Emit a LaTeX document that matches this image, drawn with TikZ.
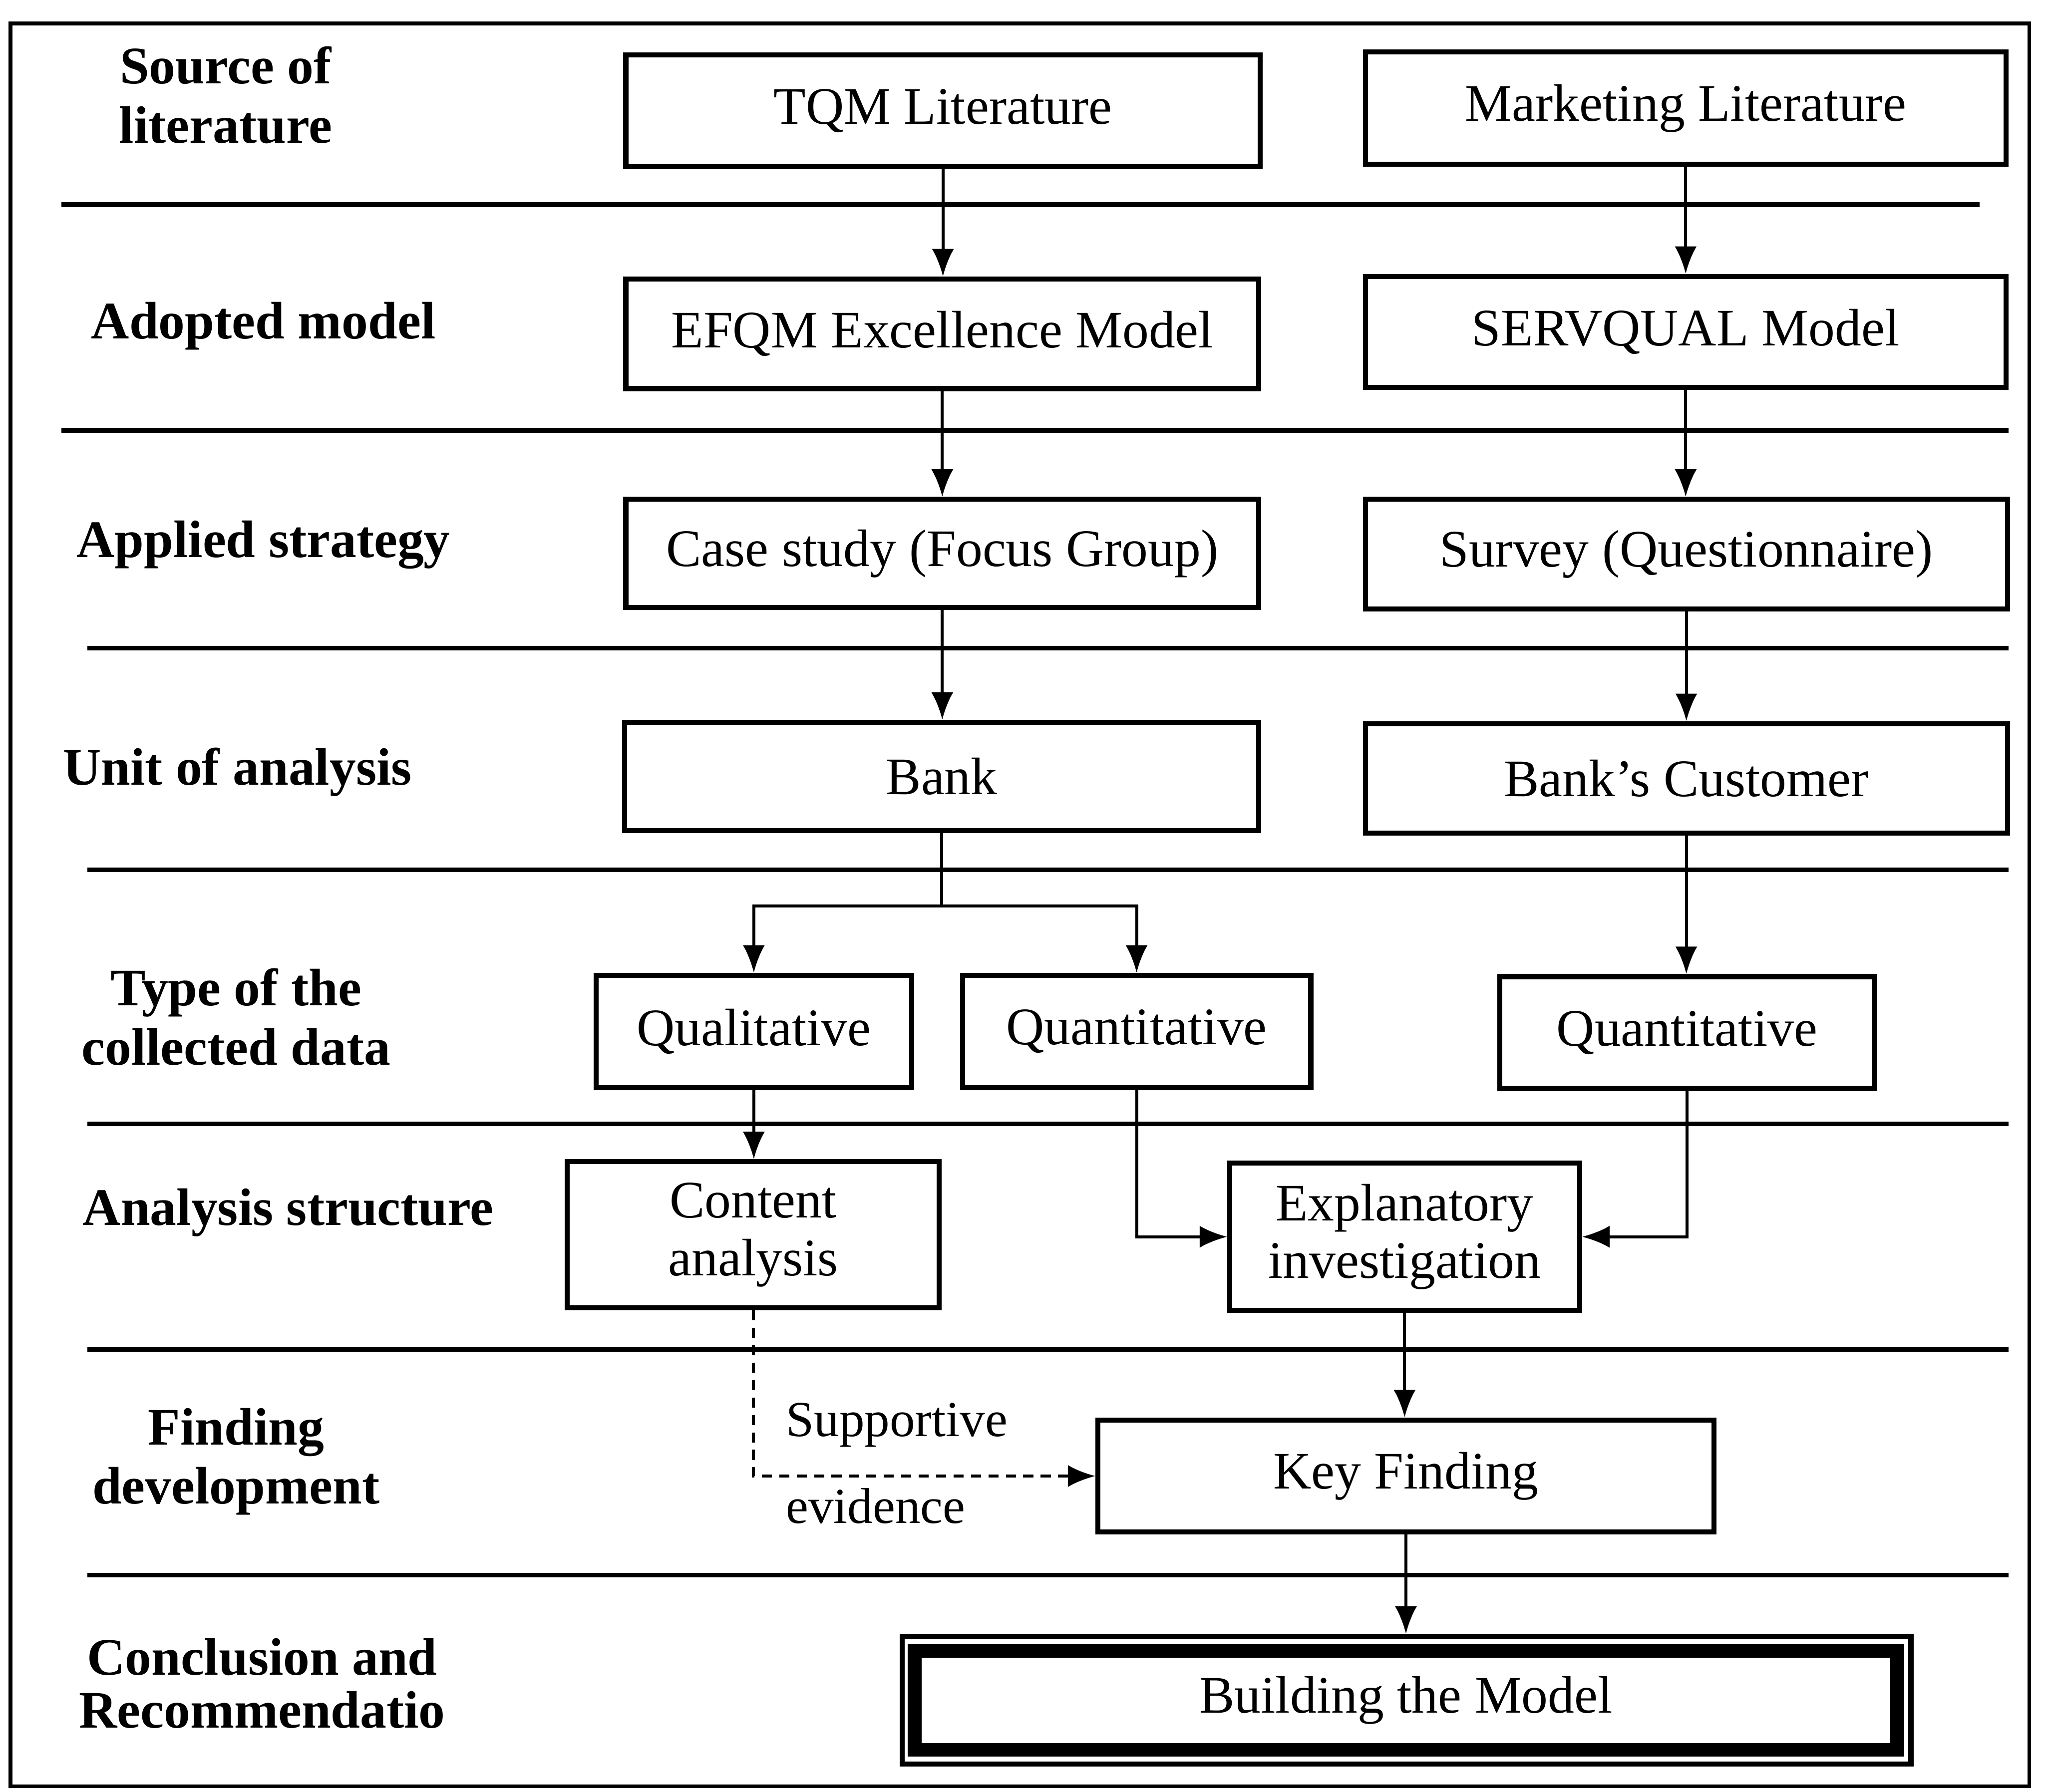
\documentclass[tikz,border=0pt]{standalone}
\usepackage{fontspec}
\setmainfont{Liberation Serif}
\usetikzlibrary{arrows.meta}
\begin{document}
\begin{tikzpicture}[x=0.01cm,y=-0.01cm,
  stage/.style={draw, line width=1.1pt, inner sep=0pt, align=center,
    font=\fontsize{11.5}{12.6}\selectfont},
  rowlabel/.style={inner sep=0pt, align=center,
    font=\fontsize{11.5}{12.9}\selectfont\bfseries},
  rowline/.style={line width=1pt},
  conn/.style={line width=0.65pt, -{Latex[length=6pt,width=4.8pt]}},
  note/.style={inner sep=0pt, anchor=west, font=\fontsize{11}{13}\selectfont}]
\useasboundingbox (0,0) rectangle (1568,1374);

% frame
\draw[line width=0.8pt] (8,18) rectangle (1556,1370);

% row separators
\foreach \y/\a/\b in {157/47/1518, 330/47/1540, 497/67/1540, 667/67/1540,
                      862/67/1540, 1035/67/1540, 1208/67/1540}
  \draw[rowline] (\a,\y) -- (\b,\y);

% row titles
\node[rowlabel] (lsrc)  at (173,73)   {Source of\\literature};
\node[rowlabel] (ladopt) at (202,250) {Adopted model};
\node[rowlabel] (lappl) at (202,418)  {Applied strategy};
\node[rowlabel] (lunit) at (182,592)  {Unit of analysis};
\node[rowlabel] (ltype) at (181,780)  {Type of the\\collected data};
\node[rowlabel] (lanal) at (221,930)  {Analysis structure};
\node[rowlabel] (lfind) at (181,1121) {Finding\\development};
\node[rowlabel, font=\fontsize{11.5}{11.6}\selectfont\bfseries] (lconc) at (201,1291) {Conclusion and\\Recommendatio};

% stage boxes
\node[stage, minimum width=4.86cm, minimum height=0.86cm] (tqm)  at (723,85)    {TQM Literature};
\node[stage, minimum width=4.91cm, minimum height=0.86cm] (mkt)  at (1292.5,83) {Marketing Literature};
\node[stage, minimum width=4.85cm, minimum height=0.84cm] (efqm) at (722.5,256) {EFQM Excellence Model};
\node[stage, minimum width=4.91cm, minimum height=0.85cm] (serv) at (1292.5,254.5) {SERVQUAL Model};
\node[stage, minimum width=4.85cm, minimum height=0.83cm] (case) at (722.5,424.5) {Case study (Focus Group)};
\node[stage, minimum width=4.92cm, minimum height=0.84cm] (surv) at (1293,425)  {Survey (Questionnaire)};
\node[stage, minimum width=4.86cm, minimum height=0.83cm] (bank) at (722,595.5) {Bank};
\node[stage, minimum width=4.92cm, minimum height=0.84cm] (cust) at (1293,597)  {Bank’s Customer};
\node[stage, minimum width=2.42cm, minimum height=0.86cm] (qual) at (578,791)   {Qualitative};
\node[stage, minimum width=2.67cm, minimum height=0.86cm] (qnta) at (871.5,791) {Quantitative};
\node[stage, minimum width=2.87cm, minimum height=0.86cm] (qntb) at (1293.5,792) {Quantitative};
\node[stage, minimum width=2.85cm, minimum height=1.12cm] (cont) at (577.5,947) {Content\\analysis};
\node[stage, minimum width=2.68cm, minimum height=1.13cm] (expl) at (1077,948.5) {Explanatory\\investigation};
\node[stage, minimum width=4.72cm, minimum height=0.86cm] (keyf) at (1078,1132) {Key Finding};
\node[draw, line width=1.1pt, minimum width=7.73cm, minimum height=0.98cm, inner sep=0pt] (build) at (1078.5,1304) {};
\node[stage, line width=3pt, minimum width=7.53cm, minimum height=0.76cm] (buildin) at (1078,1304) {Building the Model};

% connectors
\draw[conn] (tqm.south) -- (tqm.south |- efqm.north);
\draw[conn] (mkt.south) -- (mkt.south |- serv.north);
\draw[conn] (efqm.south) -- (efqm.south |- case.north);
\draw[conn] (serv.south) -- (serv.south |- surv.north);
\draw[conn] (case.south) -- (case.south |- bank.north);
\draw[conn] (surv.south) -- (surv.south |- cust.north);
\draw[line width=0.65pt] (bank.south) -- ++(0,56) coordinate (split);
\draw[conn] (split) -| (qual.north);
\draw[conn] (split) -| (qnta.north);
\draw[conn] (cust.south) -- (cust.south |- qntb.north);
\draw[conn] (qual.south) -- (qual.south |- cont.north);
\draw[conn] (qnta.south) |- (expl.west);
\draw[conn] (qntb.south) |- (expl.east);
\draw[conn] (expl.south) -- (expl.south |- keyf.north);
\draw[conn, dash pattern=on 2.2pt off 1.6pt] (cont.south) |- (keyf.west);
\draw[conn] (keyf.south) -- (keyf.south |- build.north);

% label on the dashed link
\node[note] (sup) at (602,1093) {Supportive};
\node[note] (evi) at (602,1155) {evidence};
\end{tikzpicture}
\end{document}
